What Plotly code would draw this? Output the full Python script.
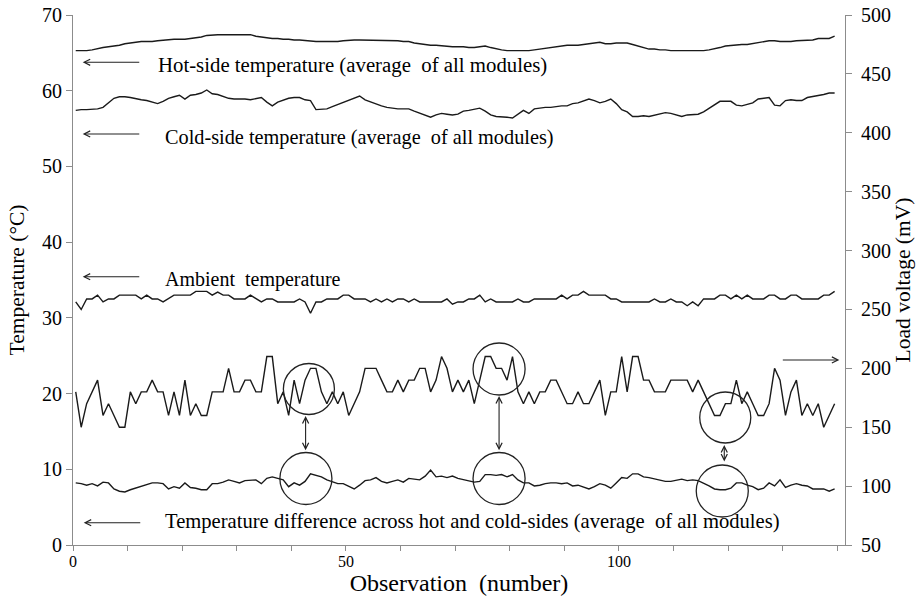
import numpy as np
import plotly.graph_objects as go

observation = np.arange(140)

hot_side = [
    65.3, 65.3, 65.3, 65.4, 65.6, 65.7, 65.8, 65.9, 66.0, 66.2,
    66.3, 66.4, 66.5, 66.5, 66.5, 66.6, 66.7, 66.7, 66.8, 66.8,
    66.8, 66.9, 67.0, 67.1, 67.3, 67.4, 67.4, 67.4, 67.4, 67.4,
    67.4, 67.4, 67.4, 67.2, 67.1, 67.0, 66.9, 66.9, 66.8, 66.8,
    66.7, 66.7, 66.6, 66.6, 66.5, 66.5, 66.5, 66.5, 66.5, 66.6,
    66.7, 66.7, 66.7, 66.7, 66.6, 66.6, 66.7, 66.7, 66.7, 66.6,
    66.5, 66.5, 66.3, 66.2, 66.1, 66.0, 66.0, 65.9, 65.8, 65.8,
    65.8, 65.8, 65.7, 65.7, 65.8, 65.9, 65.7, 65.5, 65.4, 65.3,
    65.3, 65.3, 65.3, 65.3, 65.4, 65.5, 65.6, 65.7, 65.8, 65.9,
    66.0, 66.0, 66.0, 66.1, 66.2, 66.3, 66.4, 66.2, 66.2, 66.3,
    66.3, 66.3, 66.1, 65.9, 65.7, 65.5, 65.5, 65.4, 65.4, 65.3,
    65.3, 65.3, 65.3, 65.3, 65.3, 65.3, 65.4, 65.5, 65.7, 65.9,
    66.0, 66.1, 66.1, 66.1, 66.2, 66.3, 66.5, 66.6, 66.6, 66.5,
    66.5, 66.5, 66.6, 66.6, 66.6, 66.7, 66.9, 66.9, 66.9, 67.2,
]

cold_side = [
    57.4, 57.5, 57.5, 57.6, 57.6, 57.8, 58.4, 59.0, 59.2, 59.2,
    59.1, 58.9, 58.8, 58.7, 58.5, 58.3, 58.6, 59.0, 59.2, 59.4,
    58.9, 59.4, 59.5, 59.7, 60.1, 59.6, 59.5, 59.2, 59.0, 58.9,
    58.9, 58.9, 58.8, 59.0, 59.1, 58.5, 58.0, 58.5, 58.8, 59.0,
    59.1, 59.1, 58.8, 58.7, 57.5, 57.5, 57.6, 57.9, 58.2, 58.5,
    58.8, 59.0, 59.3, 58.8, 58.5, 58.2, 58.0, 57.8, 57.7, 57.6,
    57.6, 57.6, 57.3, 57.0, 56.8, 56.5, 56.8, 57.0, 56.9, 56.8,
    56.9, 57.3, 57.4, 57.6, 57.7, 57.3, 56.8, 56.6, 56.6, 56.5,
    56.4, 56.9, 57.4, 57.0, 57.6, 57.7, 57.8, 57.8, 57.9, 58.0,
    58.0, 58.3, 58.4, 58.6, 58.9, 58.7, 58.4, 58.6, 58.9, 58.3,
    57.5, 57.2, 56.6, 56.6, 56.7, 56.6, 56.8, 57.0, 57.1, 57.0,
    56.8, 56.6, 56.8, 56.9, 56.9, 57.2, 57.7, 58.2, 58.6, 58.6,
    58.6, 58.1, 58.0, 58.2, 58.4, 58.9, 59.0, 59.1, 58.1, 58.0,
    58.7, 58.8, 58.7, 58.7, 59.1, 59.2, 59.4, 59.5, 59.7, 59.7,
]

ambient = [
    32.1, 31.1, 32.5, 32.5, 33.0, 32.1, 32.5, 32.5, 33.0, 33.0,
    33.0, 33.0, 32.5, 33.0, 32.5, 32.5, 32.1, 32.5, 33.0, 33.0,
    33.0, 33.0, 33.5, 33.5, 33.5, 33.0, 33.4, 33.0, 33.0, 32.5,
    32.5, 32.5, 33.0, 32.5, 32.1, 32.5, 32.5, 32.1, 32.1, 32.1,
    32.1, 32.5, 32.1, 30.6, 32.1, 32.1, 32.5, 32.5, 32.5, 33.0,
    33.0, 32.5, 32.5, 32.5, 32.1, 32.5, 32.1, 32.5, 32.1, 32.5,
    32.5, 32.1, 32.5, 32.1, 32.1, 32.1, 32.1, 32.1, 32.5, 31.8,
    32.1, 32.1, 32.5, 32.5, 33.0, 32.1, 32.5, 32.1, 32.1, 32.1,
    32.1, 32.5, 32.1, 32.1, 32.5, 32.5, 32.5, 32.5, 32.5, 33.0,
    32.5, 33.0, 33.0, 33.5, 33.0, 33.0, 33.0, 33.0, 32.5, 32.5,
    32.1, 32.1, 32.1, 32.1, 32.1, 32.1, 32.5, 32.1, 32.1, 32.5,
    32.1, 32.1, 31.6, 32.1, 31.6, 32.5, 32.5, 32.5, 33.0, 33.0,
    32.5, 33.0, 32.5, 33.0, 32.5, 32.5, 32.5, 33.0, 33.0, 32.5,
    32.5, 33.0, 33.0, 32.5, 32.5, 32.5, 32.5, 33.0, 33.0, 33.5,
]

temp_difference = [
    8.2, 8.1, 7.9, 8.1, 7.8, 8.3, 8.2, 7.4, 7.1, 7.0,
    7.3, 7.5, 7.8, 7.9, 8.2, 8.2, 8.1, 7.4, 7.7, 7.5,
    8.2, 7.6, 7.5, 7.3, 7.3, 8.1, 8.1, 8.3, 8.6, 8.4,
    8.2, 8.5, 8.5, 8.6, 8.1, 8.8, 9.0, 8.8, 8.6, 7.7,
    8.2, 7.9, 8.4, 9.4, 9.2, 9.0, 8.6, 8.3, 8.1, 8.1,
    7.8, 7.4, 7.9, 8.5, 8.6, 8.9, 8.4, 8.2, 8.4, 8.6,
    8.3, 8.8, 8.7, 8.6, 9.1, 9.9, 9.0, 9.1, 8.9, 9.1,
    8.8, 8.6, 8.5, 8.3, 8.4, 9.3, 9.3, 9.2, 9.3, 9.0,
    9.3, 8.6, 8.2, 8.2, 7.8, 7.9, 8.1, 8.2, 8.2, 8.1,
    8.2, 7.8, 7.9, 7.7, 7.4, 7.7, 8.1, 7.9, 7.5, 8.2,
    8.9, 8.8, 9.4, 9.4, 9.0, 8.9, 8.7, 8.6, 8.4, 8.4,
    8.5, 8.7, 8.5, 8.6, 8.5, 8.2, 7.8, 7.4, 7.3, 7.3,
    7.5, 8.2, 8.2, 7.9, 7.7, 7.3, 7.5, 8.2, 7.8, 8.6,
    7.6, 7.9, 8.1, 7.9, 7.8, 7.4, 7.4, 7.4, 7.1, 7.4,
]

load_voltage = [
    180, 150, 170, 180, 190, 160, 170, 160, 150, 150,
    180, 170, 180, 180, 190, 180, 180, 160, 180, 160,
    190, 160, 170, 160, 160, 180, 180, 180, 200, 180,
    180, 190, 190, 180, 180, 210, 210, 170, 180, 160,
    190, 170, 190, 200, 200, 180, 170, 180, 170, 180,
    160, 170, 180, 200, 200, 200, 190, 180, 180, 190,
    180, 190, 190, 200, 200, 180, 190, 210, 200, 180,
    190, 180, 190, 170, 190, 210, 210, 200, 200, 190,
    210, 180, 170, 180, 170, 180, 180, 190, 190, 180,
    170, 170, 180, 170, 170, 180, 190, 160, 180, 180,
    210, 180, 210, 210, 190, 190, 180, 180, 180, 190,
    190, 190, 190, 180, 190, 180, 170, 160, 160, 170,
    170, 190, 170, 180, 170, 160, 160, 170, 200, 190,
    160, 180, 190, 160, 170, 160, 170, 150, 160, 170,
]

x_tick_values = list(range(0, 150, 10))
x_tick_labels = ["0", "", "", "", "", "50", "", "", "", "", "100", "", "", "", ""]

labels = {
    "hot": "Hot-side temperature (average  of all modules)",
    "cold": "Cold-side temperature (average  of all modules)",
    "ambient": "Ambient  temperature",
    "diff": "Temperature difference across hot and cold-sides (average  of all modules)",
}

FONT = "Liberation Serif"
LINE = "#1a1a1a"
AXIS = "#8c8c8c"

# pixel -> axis helpers for annotation placement
def px_x(px):
    return (px - 73.3) / 5.455 - 0.5

def py_y(py):
    return (545.0 - py) / 7.571

fig = go.Figure()
for series in (hot_side, cold_side, ambient, temp_difference):
    fig.add_trace(go.Scatter(x=observation, y=series, mode="lines",
                             line=dict(color=LINE, width=1.4), showlegend=False))
fig.add_trace(go.Scatter(x=observation, y=load_voltage, mode="lines", yaxis="y2",
                         line=dict(color=LINE, width=1.4), showlegend=False))

annotations = []
def text_ann(txt, px, py, size):
    annotations.append(dict(x=px_x(px), y=py_y(py), xref="x", yref="y", text=txt,
                            showarrow=False, xanchor="left", yanchor="middle",
                            font=dict(family=FONT, size=size, color="black")))

def arrow(px_head, py_head, px_tail, py_tail, both=False):
    annotations.append(dict(x=px_x(px_head), y=py_y(py_head), ax=px_x(px_tail), ay=py_y(py_tail),
                            xref="x", yref="y", axref="x", ayref="y", text="",
                            showarrow=True, arrowhead=5, arrowsize=1.1, arrowwidth=1.1,
                            startarrowhead=5, startarrowsize=1.1,
                            arrowside="end+start" if both else "end", arrowcolor="#222"))

text_ann(labels["hot"], 156, 65.5, 20.8)
text_ann(labels["cold"], 163, 137.5, 20.3)
text_ann(labels["ambient"], 163, 279.5, 20)
text_ann(labels["diff"], 163, 521.5, 20.6)

arrow(83, 62.3, 141, 62.3)
arrow(83, 134, 141, 134)
arrow(83, 276.7, 141, 276.7)
arrow(84, 522.7, 142, 522.7)
arrow(839, 360, 781, 360)
arrow(305.7, 416, 305.7, 451.7, both=True)
arrow(499, 396, 499, 451.7, both=True)
arrow(724, 445, 724, 463, both=True)

shapes = []
for (cx, cy, r) in [(309, 389, 25.5), (306, 478.5, 26), (499, 369, 26),
                    (499, 478.5, 26), (725, 417.5, 25.5), (722, 491, 26)]:
    shapes.append(dict(type="circle", xref="x", yref="y",
                       x0=px_x(cx - r), x1=px_x(cx + r), y0=py_y(cy + r), y1=py_y(cy - r),
                       line=dict(color="#222", width=1.3)))

fig.update_layout(
    width=919, height=601,
    margin=dict(l=73, r=74, t=15, b=56),
    paper_bgcolor="white", plot_bgcolor="white",
    font=dict(family=FONT, size=18, color="black"),
    annotations=annotations, shapes=shapes,
    xaxis=dict(range=[-0.5, 140.9], tickvals=[v - 0.5 for v in x_tick_values],
               ticktext=x_tick_labels, ticks="outside", ticklen=5, tickcolor=AXIS,
               showline=True, linecolor=AXIS, linewidth=1.2, showgrid=False, zeroline=False,
               automargin=False, ticklabelstandoff=-3,
               title=dict(text="Observation  (number)", font=dict(size=24), standoff=2),
               tickfont=dict(size=16)),
    yaxis=dict(range=[0, 70], dtick=10, ticks="outside", ticklen=6, tickcolor=AXIS,
               showline=True, linecolor=AXIS, linewidth=1.2, showgrid=False, zeroline=False,
               automargin=False,
               title=dict(text="Temperature (°C)", font=dict(size=21.5), standoff=11),
               tickfont=dict(size=20)),
    yaxis2=dict(range=[50, 500], dtick=50, overlaying="y", side="right",
                ticks="outside", ticklen=6, tickcolor=AXIS,
                showline=True, linecolor=AXIS, linewidth=1.2, showgrid=False, zeroline=False,
                automargin=False, ticklabelstandoff=5,
                title=dict(text="Load voltage (mV)", font=dict(size=21.5), standoff=0),
                tickfont=dict(size=20)),
)

fig.write_html("out.html")
